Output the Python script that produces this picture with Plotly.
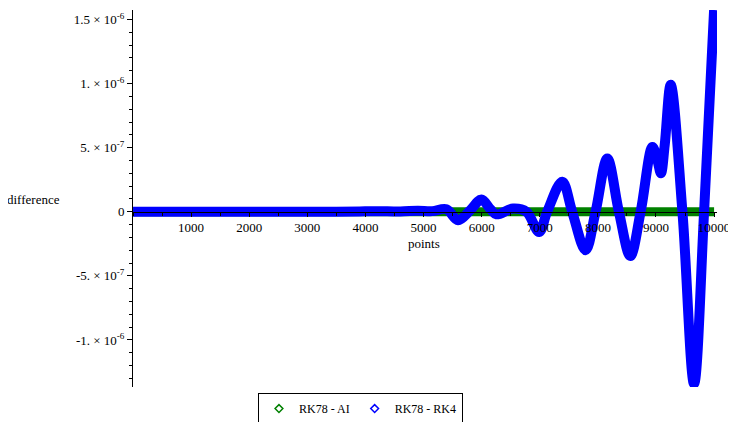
import plotly.graph_objs as go

# RK78 - AI: zero everywhere
ai_points = [1, 10000]
ai_diff = [0.0, 0.0]

# RK78 - RK4
rk4_points = [1, 500, 1000, 1500, 2000, 2500, 3000, 3500, 3900, 4200, 4600, 4900,
              5150, 5394, 5594, 5800, 5996, 6150, 6254, 6540, 6771, 6988, 7127,
              7386, 7558, 7788, 7960, 8162, 8362, 8558, 8736, 8938, 9020, 9085,
              9150, 9253, 9455, 9655, 9828, 10000]
rk4_diff = [0, 0, 0, 0, 0, 0, 0, 0, 0.03e-7, 0.05e-7, 0.02e-7, 0.08e-7,
            0.05e-7, 0.2e-7, -0.66e-7, 0.1e-7, 0.95e-7, 0.2e-7, -0.2e-7, 0.25e-7, 0, -1.58e-7, 0,
            2.35e-7, 0, -3.0e-7, 0, 4.15e-7, 0, -3.45e-7, 0, 5.06e-7, 4.1e-7, 3.0e-7,
            5.2e-7, 9.9e-7, 0, -13.42e-7, 0, 15.74e-7]

x_tick_vals = [1000, 2000, 3000, 4000, 5000, 6000, 7000, 8000, 9000, 10000]
x_tick_text = ['1000', '2000', '3000', '4000', '5000', '6000', '7000', '8000', '9000', '10000']
y_tick_vals = [-1e-6, -5e-7, 0, 5e-7, 1e-6, 1.5e-6]
y_tick_text = ['-1. × 10<sup>-6</sup>', '-5. × 10<sup>-7</sup>', '0',
               '5. × 10<sup>-7</sup>', '1. × 10<sup>-6</sup>', '1.5 × 10<sup>-6</sup>']

y_lo, y_hi = -1.367e-6, 1.574e-6
serif = 'Liberation Serif, Times New Roman, serif'

traces = [
    go.Scatter(x=ai_points, y=ai_diff, mode='lines', line=dict(color='#008000', width=9),
               showlegend=False, hoverinfo='skip'),
    go.Scatter(x=rk4_points, y=rk4_diff, mode='lines', line=dict(color='#0000ff', width=10, shape='spline'),
               showlegend=False, hoverinfo='skip'),
    go.Scatter(x=[None], y=[None], mode='markers', name='RK78 - AI',
               marker=dict(symbol='diamond-open', color='#008000', size=6, line=dict(width=1.5))),
    go.Scatter(x=[None], y=[None], mode='markers', name='RK78 - RK4',
               marker=dict(symbol='diamond-open', color='#0000ff', size=6, line=dict(width=1.5))),
]

# page body has an 8px margin, so the figure is a bit smaller than the window
layout = go.Layout(
    width=728, height=414,
    margin=dict(l=125, r=19, t=2, b=35, autoexpand=False),
    paper_bgcolor='white', plot_bgcolor='white',
    font=dict(family=serif, size=13, color='black'),
    xaxis=dict(range=[0, 10050], anchor='free', position=-y_lo / (y_hi - y_lo),
               automargin=False, ticklabeloverflow='allow',
               showline=True, linecolor='black', linewidth=1, showgrid=False, zeroline=False,
               tickmode='array', tickvals=x_tick_vals, ticktext=x_tick_text,
               ticks='outside', ticklen=4,
               tickcolor='black', tickfont=dict(family=serif, size=13),
               minor=dict(dtick=500, tick0=0, ticks='outside', ticklen=3, tickcolor='black')),
    yaxis=dict(range=[y_lo, y_hi], automargin=False, ticklabeloverflow='allow',
               showline=True, linecolor='black', linewidth=1,
               showgrid=False, zeroline=False,
               tickmode='array', tickvals=y_tick_vals, ticktext=y_tick_text,
               ticks='outside', ticklen=5, tickcolor='black',
               tickfont=dict(family=serif, size=13),
               minor=dict(dtick=1e-7, tick0=0, ticks='outside', ticklen=3, tickcolor='black')),
    legend=dict(orientation='h', x=0.214, y=-0.016, xanchor='left', yanchor='top',
                bordercolor='black', borderwidth=1, font=dict(family=serif, size=12),
                bgcolor='white', itemwidth=30, tracegroupgap=0),
    annotations=[
        dict(text='points', xref='x', yref='paper', x=5000, y=-y_lo / (y_hi - y_lo),
             yshift=-32, showarrow=False, font=dict(family=serif, size=13)),
        dict(text='difference', xref='paper', yref='y', x=0, y=0, xanchor='right',
             xshift=-71, yshift=12, showarrow=False, font=dict(family=serif, size=13)),
    ],
)

fig = go.Figure(data=traces, layout=layout)
fig.write_html("out.html")
